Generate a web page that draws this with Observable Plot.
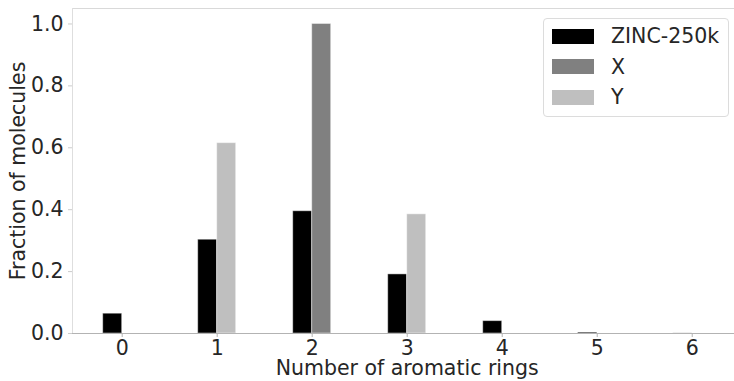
<!DOCTYPE html>
<html>
<head>
<meta charset="utf-8">
<script src="https://cdn.jsdelivr.net/npm/d3@7"></script>
<script src="https://cdn.jsdelivr.net/npm/@observablehq/plot@0.6"></script>
<style>
  html, body { margin: 0; padding: 0; background: #fff; }
  #wrap { position: relative; width: 734px; height: 381px; font-family: "DejaVu Sans", sans-serif; }
  #legend { position: absolute; left: 543px; top: 18px; width: 186px; height: 99px;
    border: 1px solid #dcdcdc; border-radius: 4px; background: rgba(255,255,255,0.85); box-sizing: border-box; }
  .row { position: absolute; left: 8px; height: 20px; display: flex; align-items: center; }
  .sw { width: 42px; height: 15px; margin-right: 17px; }
  .lb { font-size: 20.5px; color: #262626; line-height: 20px; }
</style>
</head>
<body>
<div id="wrap"></div>
<script>
const categories = [0, 1, 2, 3, 4, 5, 6];
const zinc = [0.064, 0.303, 0.395, 0.191, 0.040, 0.003, 0.0003];
const seriesX = [0, 0, 1.0, 0, 0, 0, 0];
const seriesY = [0, 0.615, 0, 0.385, 0, 0, 0];
const seriesNames = ["ZINC-250k", "X", "Y"];
const seriesColors = ["#000000", "#808080", "#bfbfbf"];
const yTicks = [0, 0.2, 0.4, 0.6, 0.8, 1.0];

const W = 0.2;
const rows = [];
categories.forEach((c, i) => {
  rows.push({s: seriesNames[0], x1: c - W, x2: c, v: zinc[i]});
  rows.push({s: seriesNames[2], x1: c, x2: c + W, v: seriesY[i]});
  rows.push({s: seriesNames[1], x1: c, x2: c + W, v: seriesX[i]});
});
const colorOf = Object.fromEntries(seriesNames.map((n, i) => [n, seriesColors[i]]));

const textColor = "#262626";
const FS = 20.5;
const plot = Plot.plot({
  width: 734,
  height: 381,
  marginLeft: 72,
  marginRight: 0,
  marginTop: 8,
  marginBottom: 48,
  style: { fontFamily: "DejaVu Sans, sans-serif", fontSize: FS + "px", color: textColor, background: "white" },
  x: { domain: [-0.523, 6.445] },
  y: { domain: [0, 1.05] },
  marks: [
    Plot.frame({ anchor: "top", stroke: "#d9d9d9" }),
    Plot.frame({ anchor: "left", stroke: "#dedede" }),
    Plot.rectY(rows.filter(d => d.v > 0), {
      x1: "x1", x2: "x2", y1: 0, y2: "v",
      fill: d => colorOf[d.s], stroke: "white", strokeOpacity: 0.45, strokeWidth: 1
    }),
    Plot.ruleY([0], { stroke: "#b3b3b3" }),
    Plot.axisX(categories, { tickSize: 4, tickPadding: 3, stroke: "#b3b3b3", fill: textColor, fontSize: FS, label: null, tickFormat: d => String(d) }),
    Plot.axisY(yTicks, { tickSize: 4, tickPadding: 5, stroke: "#cccccc", fill: textColor, fontSize: FS, label: null, tickFormat: d3.format(".1f") }),
    Plot.text(["Number of aromatic rings"], { x: 3, frameAnchor: "bottom", dy: 41, fontSize: FS, fill: textColor, lineAnchor: "bottom" }),
    Plot.text(["Fraction of molecules"], { y: 0.525, frameAnchor: "left", dx: -54, rotate: -90, fontSize: FS, fill: textColor, textAnchor: "middle", lineAnchor: "middle" })
  ]
});
const wrap = document.getElementById("wrap");
wrap.appendChild(plot);

const legend = document.createElement("div");
legend.id = "legend";
seriesNames.forEach((n, i) => {
  const r = document.createElement("div");
  r.className = "row";
  r.style.top = (7 + i * 30.5) + "px";
  r.innerHTML = `<div class="sw" style="background:${seriesColors[i]}"></div><div class="lb">${n}</div>`;
  legend.appendChild(r);
});
wrap.appendChild(legend);
</script>
</body>
</html>
